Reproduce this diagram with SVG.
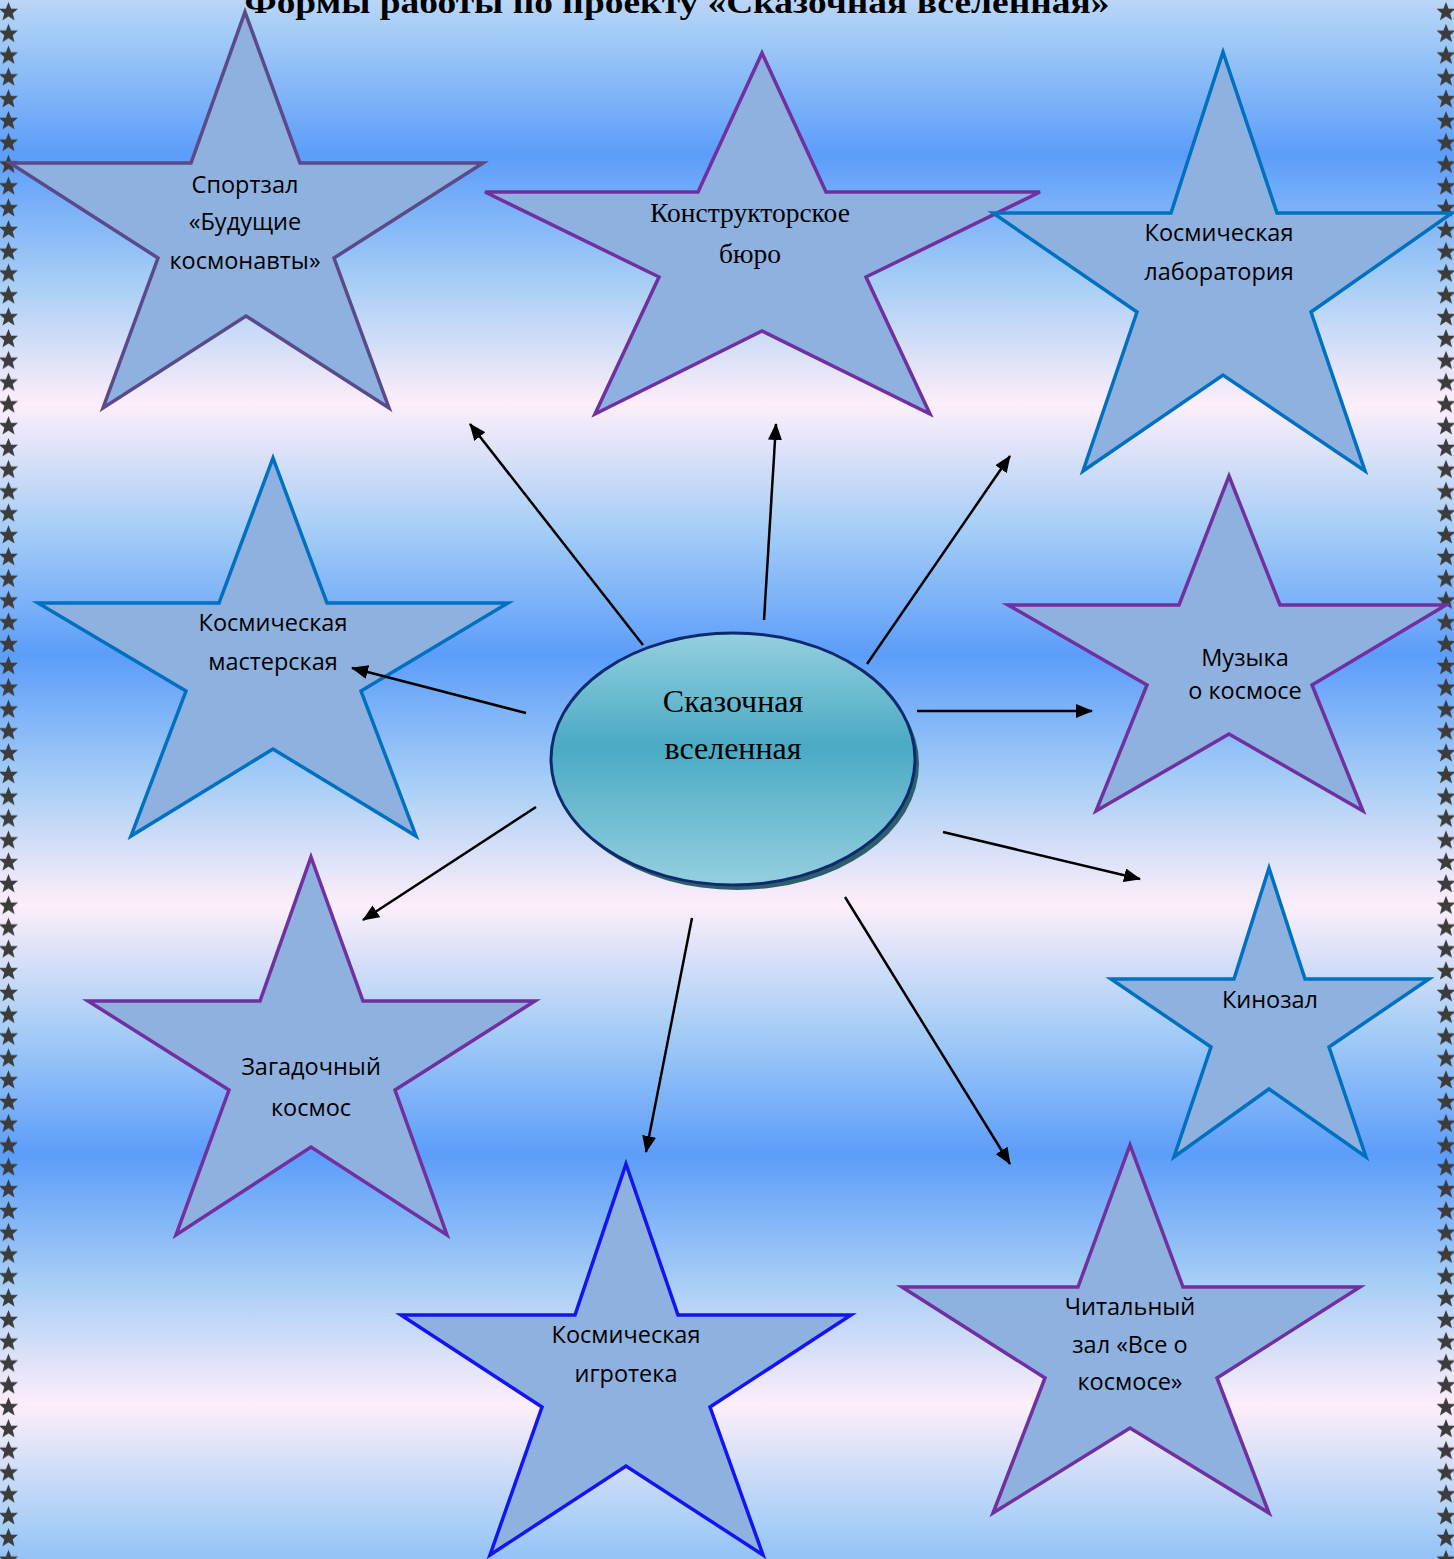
<svg xmlns="http://www.w3.org/2000/svg" width="1454" height="1559" viewBox="0 0 1454 1559">
<defs>
<linearGradient id="bg" gradientUnits="userSpaceOnUse" x1="0" y1="155" x2="0" y2="405" spreadMethod="reflect">
<stop offset="0" stop-color="#5c9dfa"/>
<stop offset="0.5" stop-color="#a5cdf6"/>
<stop offset="1" stop-color="#fdeefa"/>
</linearGradient>
<linearGradient id="ell" x1="0" y1="0" x2="0" y2="1">
<stop offset="0" stop-color="#95cfdf"/>
<stop offset="0.45" stop-color="#4aaac4"/>
<stop offset="1" stop-color="#95cfdf"/>
</linearGradient>
<pattern id="bstarL" patternUnits="userSpaceOnUse" x="0" y="2" width="20" height="21.8">
<polygon points="8.5,0 11.1,6.6 18,6.8 12.7,11.3 14.6,18.3 8.5,14.4 2.4,18.3 4.3,11.3 -1,6.8 5.9,6.6" fill="#3c3c3c"/>
</pattern>
<pattern id="bstarR" patternUnits="userSpaceOnUse" x="1437" y="2" width="20" height="21.8">
<polygon points="9,0 11.6,6.6 18.5,6.8 13.2,11.3 15.1,18.3 9,14.4 2.9,18.3 4.8,11.3 -0.5,6.8 6.4,6.6" fill="#3c3c3c"/>
</pattern>
<marker id="ah" markerUnits="userSpaceOnUse" markerWidth="18" markerHeight="14" refX="16" refY="7" orient="auto">
<path d="M0,0 L17,7 L0,14 Z" fill="#000"/>
</marker>
<style>
.st{fill:#8eb1e0;stroke-width:3.5;stroke-linejoin:miter}
.pu{stroke:#7030a0}
.bl{stroke:#0070c0}
.dp{stroke:#5a4a8a}
.bb{stroke:#1414f0}
.t{font-family:"Open Sans","Noto Sans",sans-serif;font-size:23.5px;fill:#000;text-anchor:middle}
.s{font-family:"Liberation Serif","DejaVu Serif",serif;fill:#000;text-anchor:middle}
.cn line{stroke:#000;stroke-width:2.5;marker-end:url(#ah)}
</style>
</defs>
<rect x="0" y="0" width="1454" height="1559" fill="url(#bg)"/>
<rect x="0" y="0" width="19" height="1559" fill="url(#bstarL)"/>
<rect x="1436" y="0" width="18" height="1559" fill="url(#bstarR)"/>
<text x="677" y="13" class="s" font-size="31" font-weight="bold" textLength="865" lengthAdjust="spacingAndGlyphs">Формы работы по проекту «Сказочная вселенная»</text>

<g id="star-sportzal">
<polygon class="st dp" points="245,12 300,163 483,163 334,258 389,408 246,316 103,408 158,258 10,163 191,163"/>
<text class="t" x="245" y="193">Спортзал</text>
<text class="t" x="245" y="230">«Будущие</text>
<text class="t" x="245" y="269">космонавты»</text>
</g>
<g id="star-konstruktor">
<polygon class="st pu" points="762,53 826,192 1040,192 866,277 930,414 762,331 595,414 659,277 485,192 698,192"/>
<text class="s" font-size="27.5" x="750" y="222">Конструкторское</text>
<text class="s" font-size="27.5" x="750" y="263">бюро</text>
</g>
<g id="star-laboratoriya">
<polygon class="st bl" points="1223,52 1277,213 1452,213 1311,312 1365,471 1223,375 1083,471 1137,312 993,213 1171,213"/>
<text class="t" x="1219" y="241">Космическая</text>
<text class="t" x="1219" y="280">лаборатория</text>
</g>
<g id="star-masterskaya">
<polygon class="st bl" points="273,458 327,603 508,603 361,691 416,836 273,749 131,836 186,691 38,603 219,603"/>
<text class="t" x="273" y="631">Космическая</text>
<text class="t" x="273" y="670">мастерская</text>
</g>
<g id="star-muzyka">
<polygon class="st pu" points="1229,476 1280,605 1446,605 1312,685 1363,811 1229,734 1096,811 1147,685 1008,605 1179,605"/>
<text class="t" x="1245" y="666">Музыка</text>
<text class="t" x="1245" y="699">о космосе</text>
</g>
<g id="star-zagadochny">
<polygon class="st pu" points="311,857 363,1001 535,1001 395,1090 447,1235 311,1147 176,1235 229,1090 88,1001 260,1001"/>
<text class="t" font-size="27" x="311" y="1075">Загадочный</text>
<text class="t" font-size="27" x="311" y="1116">космос</text>
</g>
<g id="star-kinozal">
<polygon class="st bl" points="1269,868 1305,979 1429,979 1329,1047 1366,1157 1269,1089 1174,1157 1211,1047 1111,979 1234,979"/>
<text class="t" x="1270" y="1008">Кинозал</text>
</g>
<g id="star-igroteka">
<polygon class="st bb" points="626,1164 678,1315 851,1315 710,1407 763,1555 626,1466 490,1555 542,1407 401,1315 575,1315"/>
<text class="t" x="626" y="1343">Космическая</text>
<text class="t" x="626" y="1382">игротека</text>
</g>
<g id="star-chitalny">
<polygon class="st pu" points="1130,1145 1183,1287 1360,1287 1217,1378 1269,1513 1130,1428 993,1513 1045,1378 902,1287 1078,1287"/>
<text class="t" x="1130" y="1315">Читальный</text>
<text class="t" x="1130" y="1353">зал «Все о</text>
<text class="t" x="1130" y="1390">космосе»</text>
</g>

<g id="center">
<ellipse cx="737" cy="764" rx="182" ry="126" fill="#2d5f6b"/>
<ellipse cx="733" cy="759" rx="182" ry="126" fill="url(#ell)" stroke="#0d2a6e" stroke-width="3"/>
<text class="s" font-size="32" x="733" y="712">Сказочная</text>
<text class="s" font-size="32" x="733" y="759">вселенная</text>
</g>

<g id="connectors" class="cn">
<line x1="643" y1="645" x2="470" y2="424"/>
<line x1="764" y1="620" x2="776" y2="424"/>
<line x1="867" y1="664" x2="1010" y2="456"/>
<line x1="526" y1="713" x2="352" y2="668"/>
<line x1="917" y1="711" x2="1092" y2="711"/>
<line x1="536" y1="807" x2="363" y2="920"/>
<line x1="943" y1="832" x2="1140" y2="879"/>
<line x1="692" y1="918" x2="646" y2="1152"/>
<line x1="845" y1="897" x2="1010" y2="1164"/>
</g>
</svg>
